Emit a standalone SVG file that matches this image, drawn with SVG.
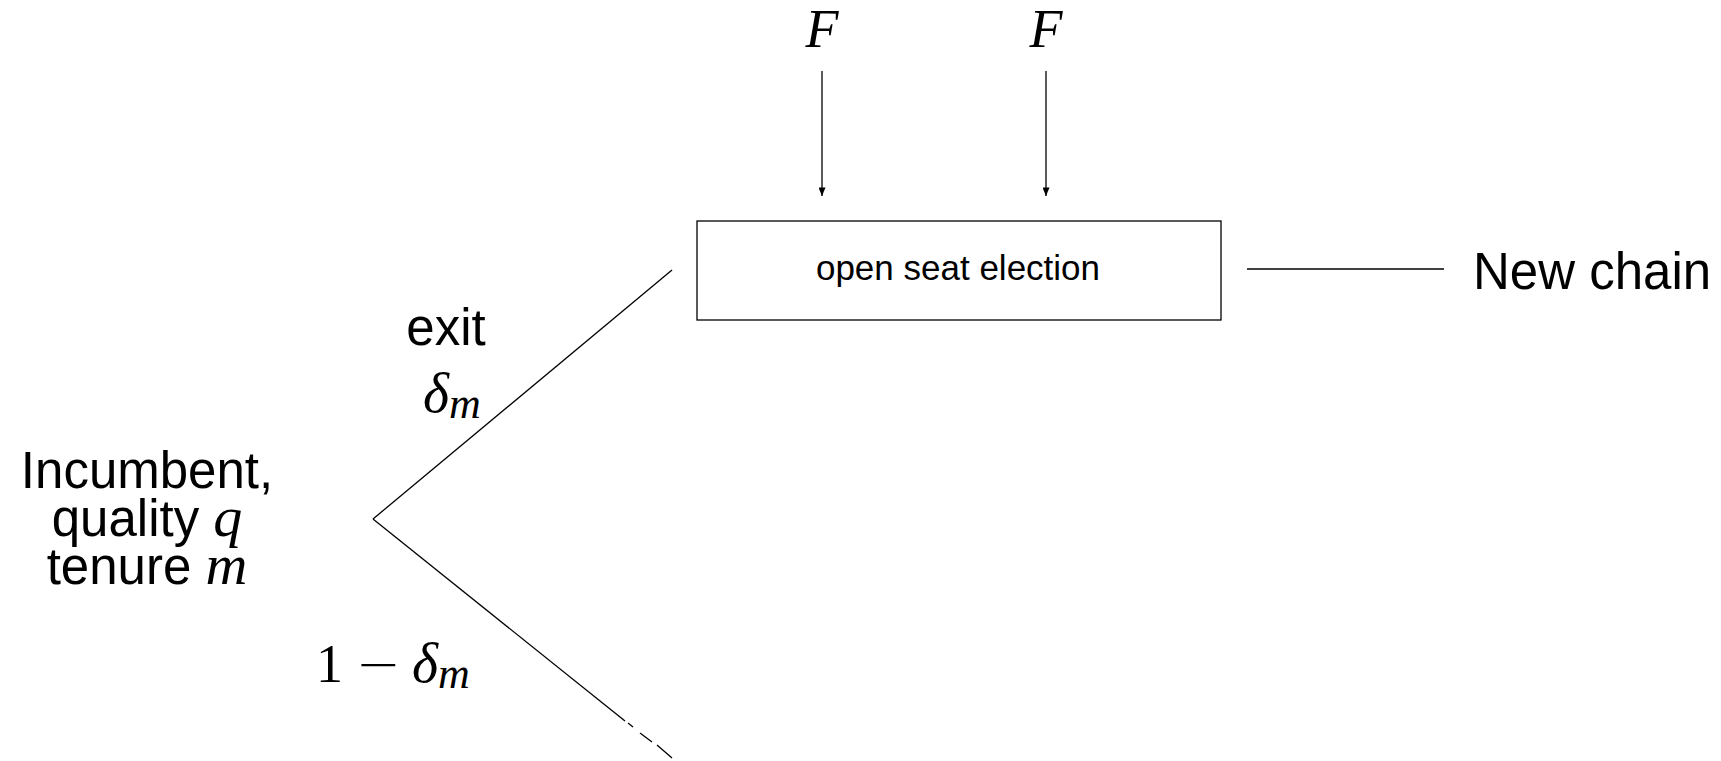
<svg xmlns="http://www.w3.org/2000/svg" width="1721" height="761" viewBox="0 0 1721 761">
<style>
.sans{font-family:"Liberation Sans","DejaVu Sans",sans-serif;fill:#000}
.math{font-family:"Liberation Serif","DejaVu Serif",serif;font-style:italic;fill:#000}
.rm{font-family:"Liberation Serif","DejaVu Serif",serif;fill:#000}
.ln{stroke:#000;stroke-width:1.3;fill:none}
</style>
<defs>
<marker id="ah2" viewBox="0 0 12 10" refX="12" refY="5" markerWidth="11" markerHeight="7" markerUnits="userSpaceOnUse" orient="auto">
<path d="M0,0 L12,5 L0,10 z" fill="#000"/>
</marker>
</defs>
<rect width="1721" height="761" fill="#fff"/>
<g id="connectors">
<line class="ln" x1="822" y1="71" x2="822" y2="196" marker-end="url(#ah2)"/>
<line class="ln" x1="1046" y1="71" x2="1046" y2="196" marker-end="url(#ah2)"/>
<line class="ln" x1="1247" y1="269" x2="1444" y2="269"/>
<line class="ln" x1="373" y1="519" x2="672" y2="270"/>
<line class="ln" x1="373" y1="519" x2="625" y2="721"/>
<path class="ln" d="M628,723 L633,727 M640,733 L652,742 M657,745 L672,758"/>
</g>
<g id="node-F1"><text class="math" x="822" y="47" font-size="54" text-anchor="middle">F</text></g>
<g id="node-F2"><text class="math" x="1046" y="47" font-size="54" text-anchor="middle">F</text></g>
<g id="node-election">
<rect x="697" y="221" width="524" height="99" fill="#fff" stroke="#000" stroke-width="1.3"/>
<text class="sans" x="958" y="280" font-size="35" text-anchor="middle">open seat election</text>
</g>
<g id="node-newchain"><text class="sans" x="1473" y="289" font-size="51">New chain</text></g>
<g id="node-incumbent">
<text class="sans" font-size="51" text-anchor="middle"><tspan x="147" y="488">Incumbent,</tspan><tspan x="147" y="536">quality <tspan class="math" font-size="58">q</tspan></tspan><tspan x="147" y="584">tenure <tspan class="math" font-size="58">m</tspan></tspan></text>
</g>
<g id="label-exit">
<text class="sans" x="446" y="345" font-size="51" text-anchor="middle">exit</text>
<text class="math" x="423" y="412" font-size="56">δ<tspan font-size="44" dy="6">m</tspan></text>
</g>
<g id="label-stay">
<text class="rm" x="316" y="682" font-size="54">1</text>
<text x="378" y="682" font-size="54" font-weight="200" text-anchor="middle" font-family="DejaVu Sans, sans-serif">−</text>
<text class="math" x="412" y="682" font-size="56">δ<tspan font-size="44" dy="6">m</tspan></text>
</g>
</svg>
